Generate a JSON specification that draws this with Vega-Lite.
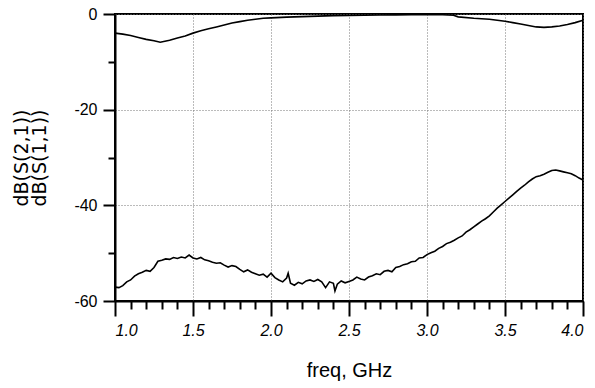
{
  "$schema": "https://vega.github.io/schema/vega-lite/v6.json",
  "width": 468,
  "height": 287,
  "autosize": "none",
  "padding": {"left": 115, "top": 14, "right": 12, "bottom": 87},
  "background": "white",
  "config": {
    "view": {"stroke": "black", "strokeWidth": 2},
    "font": "Liberation Sans"
  },
  "datasets": {
    "s21": [
      {"f": 1.00, "db": -4.0}, {"f": 1.05, "db": -4.2}, {"f": 1.10, "db": -4.5}, {"f": 1.15, "db": -4.9},
      {"f": 1.20, "db": -5.3}, {"f": 1.25, "db": -5.6}, {"f": 1.29, "db": -5.9}, {"f": 1.35, "db": -5.5},
      {"f": 1.40, "db": -5.0}, {"f": 1.45, "db": -4.6}, {"f": 1.50, "db": -4.0}, {"f": 1.55, "db": -3.5},
      {"f": 1.60, "db": -3.1}, {"f": 1.65, "db": -2.7}, {"f": 1.70, "db": -2.3}, {"f": 1.75, "db": -1.9},
      {"f": 1.80, "db": -1.6}, {"f": 1.85, "db": -1.3}, {"f": 1.90, "db": -1.1}, {"f": 1.95, "db": -0.9},
      {"f": 2.00, "db": -0.8}, {"f": 2.10, "db": -0.65}, {"f": 2.20, "db": -0.55}, {"f": 2.30, "db": -0.45},
      {"f": 2.40, "db": -0.35}, {"f": 2.50, "db": -0.3}, {"f": 2.60, "db": -0.25}, {"f": 2.70, "db": -0.2},
      {"f": 2.80, "db": -0.18}, {"f": 2.90, "db": -0.15}, {"f": 3.00, "db": -0.13}, {"f": 3.10, "db": -0.15},
      {"f": 3.17, "db": -0.25}, {"f": 3.20, "db": -0.6}, {"f": 3.30, "db": -0.9}, {"f": 3.40, "db": -1.1},
      {"f": 3.45, "db": -1.3}, {"f": 3.50, "db": -1.5}, {"f": 3.55, "db": -1.8}, {"f": 3.60, "db": -2.1},
      {"f": 3.65, "db": -2.4}, {"f": 3.70, "db": -2.7}, {"f": 3.75, "db": -2.8}, {"f": 3.80, "db": -2.7},
      {"f": 3.85, "db": -2.5}, {"f": 3.90, "db": -2.2}, {"f": 3.95, "db": -1.8}, {"f": 4.00, "db": -1.3}
    ],
    "s11": [
      {"f": 1.000, "db": -57.1}, {"f": 1.025, "db": -57.2}, {"f": 1.050, "db": -56.8}, {"f": 1.075, "db": -56.0},
      {"f": 1.100, "db": -55.6}, {"f": 1.125, "db": -54.8}, {"f": 1.150, "db": -54.3}, {"f": 1.175, "db": -54.0},
      {"f": 1.200, "db": -53.6}, {"f": 1.225, "db": -53.8}, {"f": 1.250, "db": -53.0}, {"f": 1.275, "db": -51.7},
      {"f": 1.300, "db": -51.5}, {"f": 1.325, "db": -51.2}, {"f": 1.350, "db": -51.3}, {"f": 1.375, "db": -50.9},
      {"f": 1.400, "db": -51.1}, {"f": 1.425, "db": -50.8}, {"f": 1.450, "db": -51.0}, {"f": 1.475, "db": -50.4},
      {"f": 1.500, "db": -51.0}, {"f": 1.525, "db": -51.2}, {"f": 1.550, "db": -50.9}, {"f": 1.575, "db": -51.4},
      {"f": 1.600, "db": -51.6}, {"f": 1.625, "db": -51.9}, {"f": 1.650, "db": -52.1}, {"f": 1.675, "db": -52.0},
      {"f": 1.700, "db": -52.5}, {"f": 1.725, "db": -52.9}, {"f": 1.750, "db": -52.6}, {"f": 1.775, "db": -52.8},
      {"f": 1.800, "db": -53.4}, {"f": 1.825, "db": -53.9}, {"f": 1.850, "db": -53.5}, {"f": 1.875, "db": -54.0},
      {"f": 1.900, "db": -54.3}, {"f": 1.925, "db": -54.6}, {"f": 1.950, "db": -54.4}, {"f": 1.975, "db": -55.0},
      {"f": 2.000, "db": -54.2}, {"f": 2.025, "db": -55.1}, {"f": 2.050, "db": -55.6}, {"f": 2.075, "db": -56.0},
      {"f": 2.100, "db": -55.2}, {"f": 2.110, "db": -54.2}, {"f": 2.125, "db": -56.3}, {"f": 2.150, "db": -56.7},
      {"f": 2.175, "db": -56.1}, {"f": 2.200, "db": -56.4}, {"f": 2.225, "db": -55.8}, {"f": 2.250, "db": -55.6},
      {"f": 2.275, "db": -55.9}, {"f": 2.300, "db": -55.5}, {"f": 2.325, "db": -56.0}, {"f": 2.350, "db": -57.2},
      {"f": 2.375, "db": -56.0}, {"f": 2.400, "db": -56.3}, {"f": 2.410, "db": -57.9}, {"f": 2.425, "db": -56.5},
      {"f": 2.450, "db": -55.8}, {"f": 2.475, "db": -56.2}, {"f": 2.500, "db": -55.9}, {"f": 2.525, "db": -55.6},
      {"f": 2.550, "db": -55.0}, {"f": 2.575, "db": -55.4}, {"f": 2.600, "db": -55.6}, {"f": 2.625, "db": -55.0},
      {"f": 2.650, "db": -54.7}, {"f": 2.675, "db": -54.3}, {"f": 2.700, "db": -54.5}, {"f": 2.725, "db": -53.8},
      {"f": 2.750, "db": -53.6}, {"f": 2.775, "db": -53.9}, {"f": 2.800, "db": -53.0}, {"f": 2.825, "db": -52.8},
      {"f": 2.850, "db": -52.4}, {"f": 2.875, "db": -52.2}, {"f": 2.900, "db": -51.8}, {"f": 2.925, "db": -51.7},
      {"f": 2.950, "db": -51.0}, {"f": 2.975, "db": -50.9}, {"f": 3.000, "db": -50.3}, {"f": 3.025, "db": -49.9},
      {"f": 3.050, "db": -49.6}, {"f": 3.075, "db": -49.0}, {"f": 3.100, "db": -48.6}, {"f": 3.125, "db": -48.0},
      {"f": 3.150, "db": -47.7}, {"f": 3.175, "db": -47.3}, {"f": 3.200, "db": -46.8}, {"f": 3.225, "db": -46.4},
      {"f": 3.250, "db": -45.6}, {"f": 3.275, "db": -45.1}, {"f": 3.300, "db": -44.5}, {"f": 3.325, "db": -43.9},
      {"f": 3.350, "db": -43.3}, {"f": 3.375, "db": -42.8}, {"f": 3.400, "db": -42.2}, {"f": 3.425, "db": -41.4},
      {"f": 3.450, "db": -40.6}, {"f": 3.475, "db": -39.9}, {"f": 3.500, "db": -39.2}, {"f": 3.525, "db": -38.5},
      {"f": 3.550, "db": -37.8}, {"f": 3.575, "db": -37.1}, {"f": 3.600, "db": -36.4}, {"f": 3.625, "db": -35.8},
      {"f": 3.650, "db": -35.1}, {"f": 3.675, "db": -34.5}, {"f": 3.700, "db": -34.0}, {"f": 3.725, "db": -33.8},
      {"f": 3.750, "db": -33.5}, {"f": 3.775, "db": -33.1}, {"f": 3.800, "db": -32.7}, {"f": 3.825, "db": -32.6},
      {"f": 3.850, "db": -32.8}, {"f": 3.875, "db": -33.0}, {"f": 3.900, "db": -33.2}, {"f": 3.925, "db": -33.4},
      {"f": 3.950, "db": -33.8}, {"f": 3.975, "db": -34.3}, {"f": 4.000, "db": -34.7}
    ]
  },
  "layer": [
    {
      "data": {"name": "s21"},
      "mark": {"type": "line", "color": "black", "strokeWidth": 1.6},
      "encoding": {
        "x": {
          "field": "f", "type": "quantitative",
          "scale": {"domain": [1, 4], "nice": false, "zero": false},
          "axis": {
            "orient": "bottom",
            "values": [1, 1.5, 2, 2.5, 3, 3.5, 4],
            "format": ".1f",
            "title": "freq, GHz",
            "titleFont": "Liberation Sans", "titleFontSize": 20, "titleFontWeight": "normal",
            "titleColor": "black", "titlePadding": 22,
            "labelFont": "Liberation Sans", "labelFontSize": 16, "labelFontStyle": "italic",
            "labelColor": "black", "labelPadding": 6,
            "tickSize": 15, "tickWidth": 2, "tickColor": "black",
            "domainColor": "black", "domainWidth": 2,
            "grid": true, "gridColor": "#777777", "gridDash": [1, 2], "gridWidth": 1
          }
        },
        "y": {
          "field": "db", "type": "quantitative",
          "scale": {"domain": [-60, 0], "nice": false, "zero": false},
          "axis": {
            "orient": "left",
            "values": [0, -20, -40, -60],
            "labelExpr": "toString(datum.value)",
            "title": ["dB(S(2,1))", "dB(S(1,1))"],
            "titleFont": "DejaVu Sans", "titleFontSize": 19, "titleFontWeight": "normal",
            "titleColor": "black", "titlePadding": 24, "titleLineHeight": 18,
            "labelFont": "Liberation Sans", "labelFontSize": 16,
            "labelColor": "black", "labelPadding": 6,
            "tickSize": 12, "tickWidth": 2, "tickColor": "black",
            "domainColor": "black", "domainWidth": 2,
            "grid": true, "gridColor": "#777777", "gridDash": [1, 2], "gridWidth": 1
          }
        }
      }
    },
    {
      "data": {"name": "s11"},
      "mark": {"type": "line", "color": "black", "strokeWidth": 1.6},
      "encoding": {
        "x": {
          "field": "f", "type": "quantitative",
          "scale": {"domain": [1, 4], "nice": false, "zero": false},
          "axis": {
            "orient": "bottom",
            "values": [1.1, 1.2, 1.3, 1.4, 1.6, 1.7, 1.8, 1.9, 2.1, 2.2, 2.3, 2.4, 2.6, 2.7, 2.8, 2.9, 3.1, 3.2, 3.3, 3.4, 3.6, 3.7, 3.8, 3.9],
            "labels": false, "domain": false, "grid": false, "title": null,
            "tickSize": 8, "tickWidth": 2, "tickColor": "black"
          }
        },
        "y": {
          "field": "db", "type": "quantitative",
          "scale": {"domain": [-60, 0], "nice": false, "zero": false},
          "axis": {
            "orient": "left",
            "values": [-10, -30, -50],
            "labels": false, "domain": false, "grid": false, "title": null,
            "tickSize": 7, "tickWidth": 2, "tickColor": "black"
          }
        }
      }
    }
  ],
  "resolve": {"axis": {"x": "independent", "y": "independent"}}
}
